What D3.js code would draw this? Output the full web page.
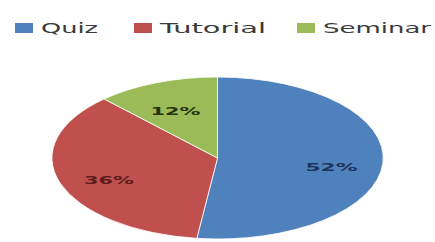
<!DOCTYPE html>
<html>
<head>
<meta charset="utf-8">
<script src="https://cdn.jsdelivr.net/npm/d3@7"></script>
<style>
  body { margin: 0; background: #fff; }
  svg { display: block; }
</style>
</head>
<body>
<div class="chart"></div>
<script>
var categories = ["Quiz", "Tutorial", "Seminar"];
var shares = [52, 36, 12];
var sliceLabels = ["52%", "36%", "12%"];

var svgWidth = 435;
var svgHeight = 242;

var colors = ["#4f81bd", "#c0504d", "#9bbb59"];
var labelColors = ["#1c355e", "#5c1c1b", "#26330f"];

var svg = d3.select(".chart")
  .append("svg")
  .attr("width", svgWidth)
  .attr("height", svgHeight);

// the pie is stretched into an ellipse
var cx = 217.5, cy = 158, rx = 165.5, ry = 81;

var pie = d3.pie().sort(null).value(d => d);
var arcs = pie(shares);

var arc = d3.arc().innerRadius(0).outerRadius(1);
var labelArc = d3.arc().innerRadius(0.69).outerRadius(0.69);

var pieGroup = svg.append("g")
  .attr("transform", `translate(${cx}, ${cy}) scale(${rx}, ${ry})`);

pieGroup.selectAll("path")
  .data(arcs)
  .enter()
  .append("path")
  .attr("d", arc)
  .attr("fill", (d, i) => colors[i])
  .attr("stroke", "#fff")
  .attr("stroke-width", 0.8)
  .attr("vector-effect", "non-scaling-stroke");

var labelWidths = [52, 50, 50];
svg.selectAll(".slice-label")
  .data(arcs)
  .enter()
  .append("text")
  .attr("class", "slice-label")
  .attr("x", d => cx + labelArc.centroid(d)[0] * rx)
  .attr("y", d => cy + labelArc.centroid(d)[1] * ry + 9)
  .attr("text-anchor", "middle")
  .attr("font-family", "DejaVu Sans, sans-serif")
  .attr("font-size", 11)
  .attr("font-weight", "bold")
  .attr("fill", (d, i) => labelColors[i])
  .attr("textLength", (d, i) => labelWidths[i])
  .attr("lengthAdjust", "spacingAndGlyphs")
  .text((d, i) => sliceLabels[i]);

// legend
var legendX = [15, 134, 297];
var legendTextW = [57, 106, 108];
var legend = svg.selectAll(".legend")
  .data(categories)
  .enter()
  .append("g")
  .attr("class", "legend")
  .attr("transform", (d, i) => `translate(${legendX[i]}, 23)`);

legend.append("rect")
  .attr("width", 18)
  .attr("height", 10)
  .attr("fill", (d, i) => colors[i]);

legend.append("text")
  .attr("x", 26)
  .attr("y", 10)
  .attr("font-family", "DejaVu Sans, sans-serif")
  .attr("font-size", 14)
  .attr("fill", "#3a3a3a")
  .attr("textLength", (d, i) => legendTextW[i])
  .attr("lengthAdjust", "spacingAndGlyphs")
  .text(d => d);
</script>
</body>
</html>
